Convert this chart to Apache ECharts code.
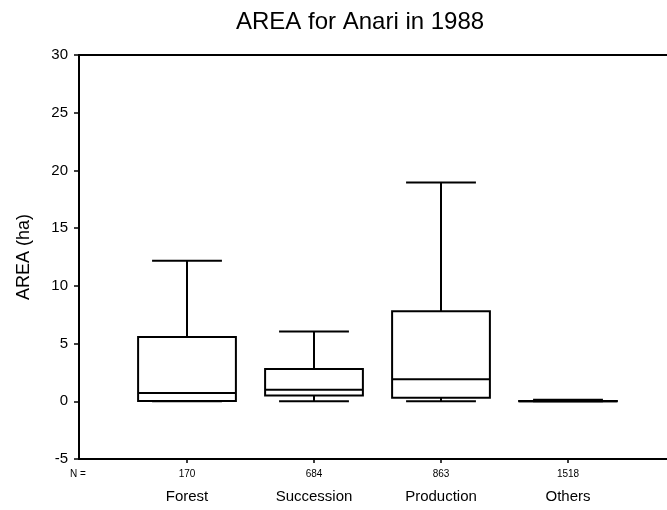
<!DOCTYPE html>
<html>
<head>
<meta charset="utf-8">
<script src="https://cdn.jsdelivr.net/npm/echarts@6/dist/echarts.min.js"></script>
<style>
  html, body { margin: 0; padding: 0; background: #fff; }
  #chart { width: 667px; height: 510px; }
</style>
</head>
<body>
<div id="chart"></div>
<script>
// categories and case counts (N =)
const categories = ['Forest', 'Succession', 'Production', 'Others']
const nCounts = ['170', '684', '863', '1518']
// box statistics per category
const whiskerLow = [0, 0, 0, 0]
const q1 = [0.03, 0.5, 0.3, 0]
const median = [0.72, 1.0, 1.9, 0]
const q3 = [5.56, 2.8, 7.8, 0.02]
const whiskerHigh = [12.17, 6.05, 18.95, 0.13]
// y axis range
const yMin = -5
const yMax = 30
const yStep = 5

const font = 'Liberation Sans, Arial, sans-serif'

const boxData = categories.map((c, i) => [i, whiskerLow[i], q1[i], median[i], q3[i], whiskerHigh[i]])

function renderBox(params, api) {
  const i = api.value(0)
  const band = api.size([1, 0])[0]
  const boxHalf = band * 0.385
  const capHalf = band * 0.275
  const pLow = api.coord([i, api.value(1)])
  const pQ1 = api.coord([i, api.value(2)])
  const pMed = api.coord([i, api.value(3)])
  const pQ3 = api.coord([i, api.value(4)])
  const pHigh = api.coord([i, api.value(5)])
  const cx = pMed[0]
  const style = { stroke: '#000', lineWidth: 2, fill: null }
  const line = (x1, y1, x2, y2) => ({ type: 'line', shape: { x1: x1, y1: y1, x2: x2, y2: y2 }, style: style })
  return {
    type: 'group',
    children: [
      line(cx, pHigh[1], cx, pQ3[1]),
      line(cx - capHalf, pHigh[1], cx + capHalf, pHigh[1]),
      line(cx, pQ1[1], cx, pLow[1]),
      line(cx - capHalf, pLow[1], cx + capHalf, pLow[1]),
      {
        type: 'rect',
        shape: { x: cx - boxHalf, y: pQ3[1], width: boxHalf * 2, height: pQ1[1] - pQ3[1] },
        style: style
      },
      line(cx - boxHalf, pMed[1], cx + boxHalf, pMed[1])
    ]
  }
}

const chart = echarts.init(document.getElementById('chart'))
chart.setOption({
  animation: false,
  backgroundColor: '#fff',
  title: {
    text: 'AREA for Anari in 1988',
    left: 231,
    top: 5,
    textStyle: { fontFamily: font, fontSize: 24, fontWeight: 'normal', color: '#000' }
  },
  graphic: [
    {
      type: 'text',
      left: 70,
      top: 469,
      style: { text: 'N =', fontFamily: font, fontSize: 10, fill: '#000' }
    }
  ],
  grid: [
    { left: 79, right: 0, top: 55, bottom: 51 },
    { left: 123.5, width: 508, top: 55, bottom: 51 }
  ],
  xAxis: [
    {
      gridIndex: 0, type: 'value', min: 0, max: 1, position: 'bottom',
      axisLine: { show: true, onZero: false, lineStyle: { color: '#000', width: 2 } },
      axisTick: { show: false }, axisLabel: { show: false }, splitLine: { show: false }
    },
    {
      gridIndex: 0, type: 'value', min: 0, max: 1, position: 'top',
      axisLine: { show: true, onZero: false, lineStyle: { color: '#000', width: 2 } },
      axisTick: { show: false }, axisLabel: { show: false }, splitLine: { show: false }
    },
    {
      gridIndex: 1, type: 'category', data: categories, position: 'bottom',
      axisLine: { show: false, onZero: false },
      axisTick: { show: true, alignWithLabel: true, length: 4, lineStyle: { color: '#000', width: 1.5 } },
      axisLabel: {
        margin: 5,
        formatter: function (value, index) {
          return '{n|' + nCounts[index] + '}\n{c|' + value + '}'
        },
        rich: {
          n: { fontFamily: font, fontSize: 10, lineHeight: 20, color: '#000' },
          c: { fontFamily: font, fontSize: 15, lineHeight: 26, color: '#000' }
        }
      },
      splitLine: { show: false }
    }
  ],
  yAxis: [
    {
      gridIndex: 0, type: 'value', min: yMin, max: yMax, interval: yStep,
      name: 'AREA (ha)', nameLocation: 'middle', nameGap: 46,
      nameTextStyle: { fontFamily: font, fontSize: 18, color: '#000' },
      axisLine: { show: true, lineStyle: { color: '#000', width: 2 } },
      axisTick: { show: true, length: 5, lineStyle: { color: '#000', width: 1.5 } },
      axisLabel: { margin: 11, fontFamily: font, fontSize: 15, color: '#000' },
      splitLine: { show: false }
    },
    {
      gridIndex: 1, type: 'value', min: yMin, max: yMax, interval: yStep,
      show: false, splitLine: { show: false }
    }
  ],
  series: [
    {
      type: 'custom',
      xAxisIndex: 2,
      yAxisIndex: 1,
      renderItem: renderBox,
      encode: { x: 0, y: [1, 2, 3, 4, 5] },
      data: boxData
    }
  ]
})
</script>
</body>
</html>
